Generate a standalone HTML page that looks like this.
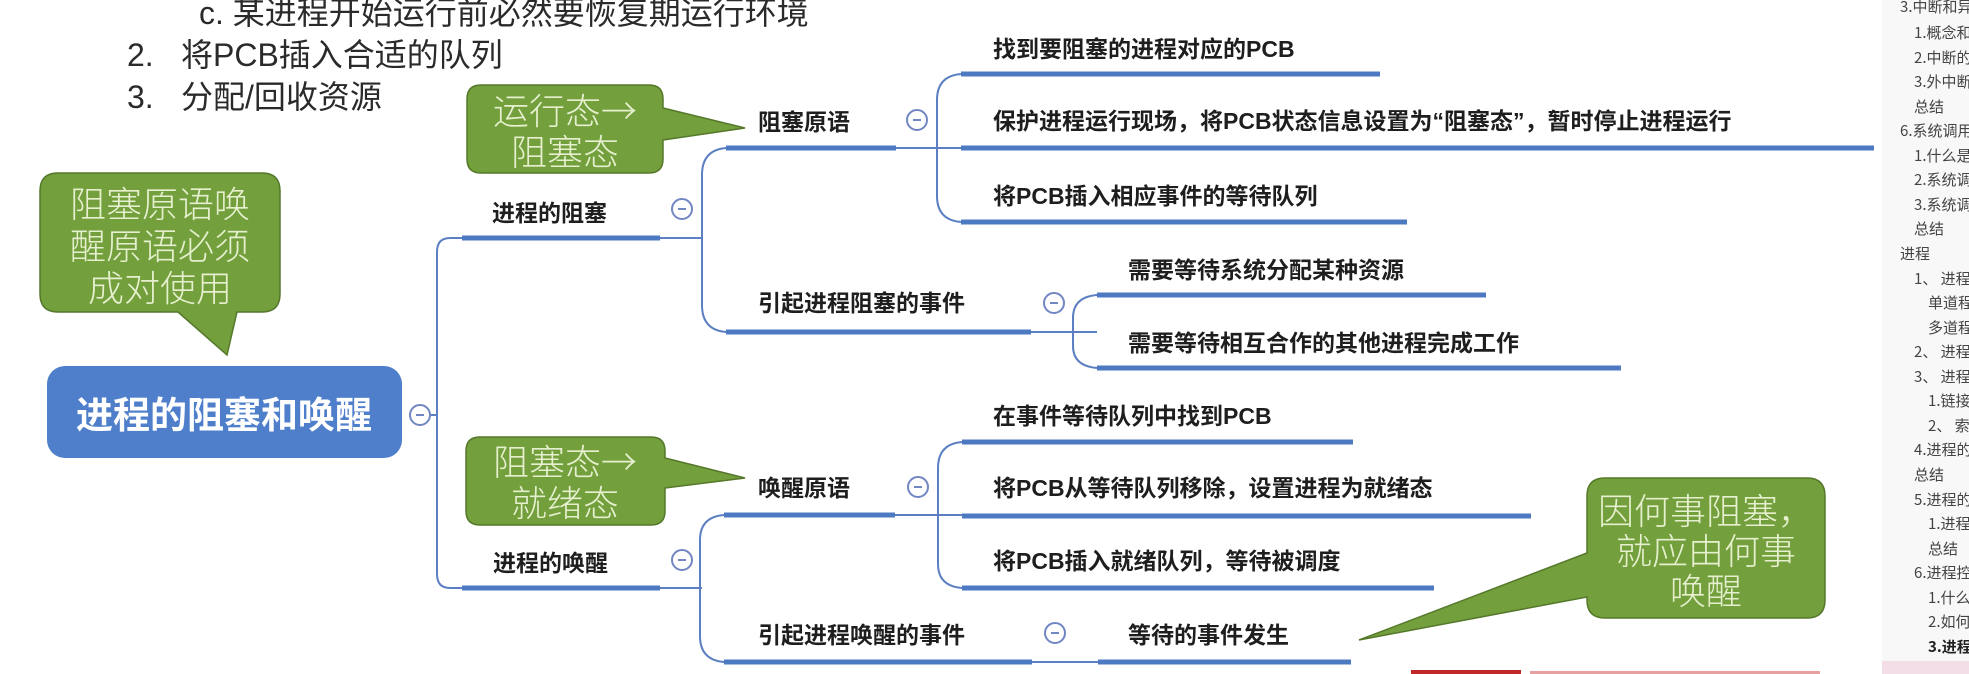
<!DOCTYPE html>
<html><head><meta charset="utf-8"><style>
html,body{margin:0;padding:0;background:#fff;}
body{width:1969px;height:674px;overflow:hidden;position:relative;font-family:"Liberation Sans","Noto Sans CJK SC",sans-serif;}
svg{position:absolute;left:0;top:0;overflow:hidden;}
.t{font-family:"Liberation Sans","Noto Sans CJK SC",sans-serif;font-weight:bold;fill:#1e1e1e;font-size:23px;}
.g{font-family:"Noto Sans CJK SC",sans-serif;font-weight:300;fill:#e6f0cf;font-size:36px;text-anchor:middle;}
.top{font-family:"Liberation Sans","Noto Sans CJK SC",sans-serif;fill:#2a2a2a;font-size:32px;}
#side{position:absolute;left:1882px;top:0;width:87px;height:674px;background:#f8f8f9;overflow:hidden;}
#side div{position:absolute;white-space:nowrap;font-family:"Noto Sans CJK SC",sans-serif;font-size:15px;color:#444;line-height:18px;}
</style></head><body>
<svg width="1969" height="674" viewBox="0 0 1969 674">
<text class="top" x="199" y="24">c. 某进程开始运行前必然要恢复期运行环境</text>
<text class="top" x="127" y="66">2.</text><text class="top" x="181" y="66">将PCB插入合适的队列</text>
<text class="top" x="127" y="108">3.</text><text class="top" x="181" y="108">分配/回收资源</text>

<g fill="none" stroke="#5b7fc2" stroke-width="2">
<path d="M430 415 H437"/>
<path d="M462 238 H450 Q437 238 437 252 V574 Q437 588 450 588 H462"/>
<path d="M660 238 H702"/>
<path d="M726 148 Q702 150 702 175 V305 Q702 330 726 332"/>
<path d="M896 148 H961"/>
<path d="M961 74 Q937 76 937 100 V196 Q937 220 961 222"/>
<path d="M1031 332 H1097"/>
<path d="M1097 295 Q1073 297 1073 318 V346 Q1073 366 1097 368"/>
<path d="M660 588 H702"/>
<path d="M724 515 Q700 517 700 540 V636 Q700 660 724 662"/>
<path d="M895 515 H962"/>
<path d="M962 442 Q938 444 938 468 V564 Q938 586 962 588"/>
<path d="M1032 662 H1098"/>
</g>
<g stroke="#4d78c2" stroke-width="5">
<line x1="462" y1="238" x2="660" y2="238"/>
<line x1="726" y1="148" x2="896" y2="148"/>
<line x1="961" y1="74" x2="1380" y2="74"/>
<line x1="961" y1="148" x2="1874" y2="148"/>
<line x1="961" y1="222" x2="1407" y2="222"/>
<line x1="726" y1="332" x2="1031" y2="332"/>
<line x1="1097" y1="295" x2="1486" y2="295"/>
<line x1="1097" y1="368" x2="1621" y2="368"/>
<line x1="462" y1="588" x2="660" y2="588"/>
<line x1="724" y1="515" x2="895" y2="515"/>
<line x1="962" y1="442" x2="1353" y2="442"/>
<line x1="962" y1="516" x2="1531" y2="516"/>
<line x1="962" y1="588" x2="1434" y2="588"/>
<line x1="724" y1="662" x2="1032" y2="662"/>
<line x1="1098" y1="662" x2="1351" y2="662"/>
</g>
<g fill="#fff" stroke="#7186c2" stroke-width="2">
<circle cx="420" cy="415" r="10"/><circle cx="682" cy="209" r="10"/><circle cx="917" cy="120" r="10"/>
<circle cx="1054" cy="303" r="10"/><circle cx="682" cy="560" r="10"/><circle cx="918" cy="487" r="10"/>
<circle cx="1055" cy="633" r="10"/>
</g>
<g stroke="#7186c2" stroke-width="2">
<line x1="416" y1="415" x2="424" y2="415"/><line x1="678" y1="209" x2="686" y2="209"/><line x1="913" y1="120" x2="921" y2="120"/>
<line x1="1050" y1="303" x2="1058" y2="303"/><line x1="678" y1="560" x2="686" y2="560"/><line x1="914" y1="487" x2="922" y2="487"/>
<line x1="1051" y1="633" x2="1059" y2="633"/>
</g>

<rect x="47" y="366" width="355" height="92" rx="18" fill="#4f7fcb"/>
<text x="224" y="428" text-anchor="middle" style="font-family:'Liberation Sans','Noto Sans CJK SC',sans-serif;font-weight:bold;font-size:37px;fill:#fff">进程的阻塞和唤醒</text>

<text class="t" x="492" y="221">进程的阻塞</text>
<text class="t" x="758" y="130">阻塞原语</text>
<text class="t" x="993" y="57">找到要阻塞的进程对应的PCB</text>
<text class="t" x="993" y="129">保护进程运行现场，将PCB状态信息设置为“阻塞态”，暂时停止进程运行</text>
<text class="t" x="993" y="204">将PCB插入相应事件的等待队列</text>
<text class="t" x="758" y="311">引起进程阻塞的事件</text>
<text class="t" x="1128" y="278">需要等待系统分配某种资源</text>
<text class="t" x="1128" y="351">需要等待相互合作的其他进程完成工作</text>
<text class="t" x="493" y="571">进程的唤醒</text>
<text class="t" x="758" y="496">唤醒原语</text>
<text class="t" x="993" y="424">在事件等待队列中找到PCB</text>
<text class="t" x="993" y="496">将PCB从等待队列移除，设置进程为就绪态</text>
<text class="t" x="993" y="569">将PCB插入就绪队列，等待被调度</text>
<text class="t" x="758" y="643">引起进程唤醒的事件</text>
<text class="t" x="1128" y="643">等待的事件发生</text>

<g fill="#73a03d" stroke="#55782b" stroke-width="1.5">
<path d="M481 85 H649 Q663 85 663 99 V108 L745 128 L663 140 V159 Q663 173 649 173 H481 Q467 173 467 159 V99 Q467 85 481 85 Z"/>
<path d="M480 437 H651 Q665 437 665 451 V458 L745 478 L665 488 V511 Q665 525 651 525 H480 Q466 525 466 511 V451 Q466 437 480 437 Z"/>
<path d="M58 173 H262 Q280 173 280 191 V294 Q280 312 262 312 H237 L227 355 L178 312 H58 Q40 312 40 294 V191 Q40 173 58 173 Z"/>
<path d="M1605 478 H1807 Q1825 478 1825 496 V600 Q1825 618 1807 618 H1605 Q1587 618 1587 600 V597 L1359 640 L1587 553 V496 Q1587 478 1605 478 Z"/>
</g>
<text class="g" x="565" y="124">运行态→</text>
<text class="g" x="565" y="165">阻塞态</text>
<text class="g" x="565" y="475">阻塞态→</text>
<text class="g" x="565" y="516">就绪态</text>
<text class="g" x="160" y="217">阻塞原语唤</text>
<text class="g" x="160" y="259">醒原语必须</text>
<text class="g" x="160" y="301">成对使用</text>
<text class="g" x="1706" y="524">因何事阻塞，</text>
<text class="g" x="1706" y="564">就应由何事</text>
<text class="g" x="1706" y="604">唤醒</text>

<rect x="1411" y="670" width="110" height="4" fill="#c0282a"/>
<rect x="1530" y="671" width="290" height="3" fill="#e7a0a0"/>
</svg>

<div id="side">
<div style="left:18px;top:-2px">3.中断和异常</div>
<div style="left:32px;top:24px">1.概念和作用</div>
<div style="left:32px;top:49px">2.中断的分类</div>
<div style="left:32px;top:73px">3.外中断的处理</div>
<div style="left:32px;top:98px">总结</div>
<div style="left:18px;top:122px">6.系统调用</div>
<div style="left:32px;top:147px">1.什么是系统调用</div>
<div style="left:32px;top:171px">2.系统调用</div>
<div style="left:32px;top:196px">3.系统调用</div>
<div style="left:32px;top:220px">总结</div>
<div style="left:18px;top:245px">进程</div>
<div style="left:32px;top:270px">1、 进程的</div>
<div style="left:46px;top:294px">单道程序</div>
<div style="left:46px;top:319px">多道程序</div>
<div style="left:32px;top:343px">2、 进程的</div>
<div style="left:32px;top:368px">3、 进程的</div>
<div style="left:46px;top:392px">1.链接方式</div>
<div style="left:46px;top:417px">2、 索引</div>
<div style="left:32px;top:441px">4.进程的特征</div>
<div style="left:32px;top:466px">总结</div>
<div style="left:32px;top:491px">5.进程的状态</div>
<div style="left:46px;top:515px">1.进程状态</div>
<div style="left:46px;top:540px">总结</div>
<div style="left:32px;top:564px">6.进程控制</div>
<div style="left:46px;top:589px">1.什么是</div>
<div style="left:46px;top:613px">2.如何实现</div>
<div style="left:46px;top:638px;font-weight:bold;color:#222">3.进程控制</div>
<div style="left:0;top:661px;width:87px;height:13px;background:#f3dde6"></div>
</div>
</body></html>
